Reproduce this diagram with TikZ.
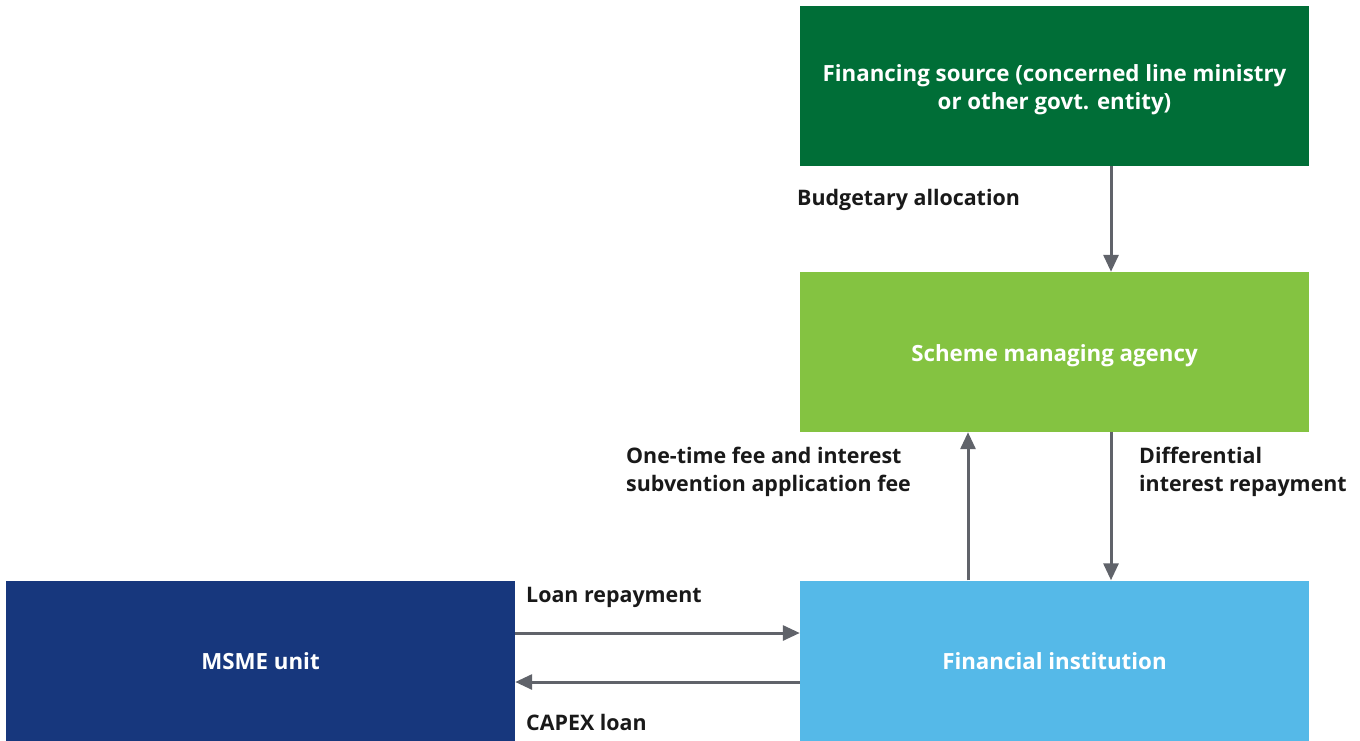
\documentclass[tikz,border=0pt]{standalone}
\usepackage{fontspec}
\setmainfont{Open Sans}
\usetikzlibrary{arrows.meta}
\definecolor{dgreen}{HTML}{006E37}
\definecolor{lgreen}{HTML}{84C341}
\definecolor{lblue}{HTML}{55B9E8}
\definecolor{dblue}{HTML}{17377D}
\definecolor{arrowgray}{HTML}{60636A}
\newcommand{\boxtext}[1]{\raisebox{-3.5pt}[\height][\depth]{\setlength{\tabcolsep}{0pt}\begin{tabular}{c}#1\end{tabular}}}
\begin{document}
\begin{tikzpicture}[x=1pt,y=-1pt,
  box/.style={fill=#1, draw=none, minimum width=509pt, minimum height=160pt, inner sep=0pt, text=white, font=\fontsize{22.3}{28}\selectfont\bfseries},
  lbl/.style={anchor=west, inner sep=0pt, font=\fontsize{21.4}{28}\selectfont\bfseries, align=left, text=black!90},
  conn/.style={draw=arrowgray, line width=3pt, -{Triangle[width=15pt,length=17pt]}}]
\useasboundingbox (0,0) rectangle (1360,740);
\node[box=dgreen] (fs) at (1054.5,86) {\boxtext{Financing source (concerned line ministry\\or other govt. entity)}};
\node[box=lgreen] (sma) at (1054.5,352) {\boxtext{Scheme managing agency}};
\node[box=lblue] (fi) at (1054.5,660.5) {\boxtext{Financial institution}};
\node[box=dblue] (msme) at (260.5,660.5) {\boxtext{MSME unit}};
\draw[conn] (fs.south -| 1111,0) -- (sma.north -| 1111,0);
\draw[conn] (fi.north -| 968,0) -- (sma.south -| 968,0);
\draw[conn] (sma.south -| 1111,0) -- (fi.north -| 1111,0);
\draw[conn] (msme.east |- 0,633) -- (fi.west |- 0,633);
\draw[conn] (fi.west |- 0,682) -- (msme.east |- 0,682);
\node[lbl] (l1) at (797,200) {Budgetary allocation};
\node[lbl] (l2) at (626,472) {One-time fee and interest\\subvention application fee};
\node[lbl] (l3) at (1139,472) {Differential\\interest repayment};
\node[lbl] (l4) at (526,597) {Loan repayment};
\node[lbl] (l5) at (526,722) {CAPEX loan};
\end{tikzpicture}
\end{document}
